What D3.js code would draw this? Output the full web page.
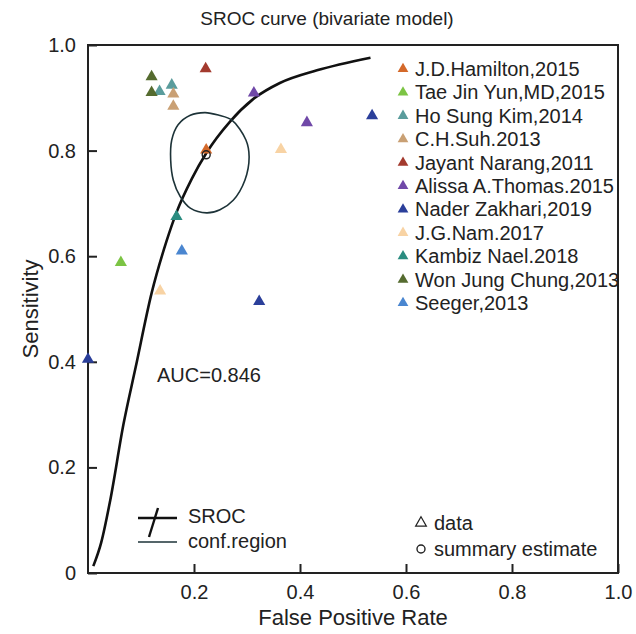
<!DOCTYPE html>
<html>
<head>
<meta charset="utf-8">
<script src="https://cdn.jsdelivr.net/npm/d3@7"></script>
<style>
  body { margin: 0; background: #fff; }
  svg text { font-family: "Liberation Sans", Arial, sans-serif; fill: #222; }
</style>
</head>
<body>
<svg id="chart" width="636" height="634"></svg>
<script>
// study names, legend order
const studies = ['J.D.Hamilton,2015', 'Tae Jin Yun,MD,2015', 'Ho Sung Kim,2014', 'C.H.Suh.2013',
    'Jayant Narang,2011', 'Alissa A.Thomas.2015', 'Nader Zakhari,2019', 'J.G.Nam.2017',
    'Kambiz Nael.2018', 'Won Jung Chung,2013', 'Seeger,2013']
const studyColors = ['#d4692a', '#7cc444', '#5a9c9c', '#c9a074', '#a33a2e', '#7048a8',
    '#2b3f9a', '#f8d3a4', '#2a8c80', '#556b2f', '#4a86d0']

// false positive rate / sensitivity of each study's results
const studyFpr = [[0.223], [0.062], [0.135, 0.158], [0.161, 0.161], [0.222], [0.313, 0.413],
    [0.536, 0.0, 0.323], [0.364, 0.136], [0.167], [0.120, 0.120], [0.177]]
const studySens = [[0.801], [0.588], [0.912, 0.924], [0.907, 0.884], [0.955], [0.909, 0.853],
    [0.866, 0.405, 0.514], [0.802, 0.534], [0.675], [0.940, 0.910], [0.610]]

// SROC curve
const srocFpr = [0.010, 0.025, 0.042, 0.067, 0.090, 0.120, 0.148, 0.167, 0.196, 0.223,
    0.268, 0.311, 0.362, 0.432, 0.533]
const srocSens = [0.013, 0.058, 0.138, 0.282, 0.390, 0.530, 0.628, 0.683, 0.747, 0.795,
    0.855, 0.897, 0.928, 0.952, 0.976]

// confidence region outline
const regionFpr = [0.221, 0.247, 0.271, 0.298, 0.304, 0.296, 0.274, 0.249, 0.224, 0.193,
    0.174, 0.161, 0.156, 0.158, 0.170, 0.193]
const regionSens = [0.872, 0.867, 0.858, 0.820, 0.788, 0.744, 0.706, 0.688, 0.682, 0.691,
    0.713, 0.744, 0.782, 0.820, 0.849, 0.867]

const summary = {fpr: 0.223, sens: 0.792}
const auc = 0.846
const xTicks = [0.2, 0.4, 0.6, 0.8, 1.0]
const yTicks = [0, 0.2, 0.4, 0.6, 0.8, 1.0]

const svg = d3.select('#chart')
const plot = {left: 88, right: 618, top: 45, bottom: 573}

const x = d3.scaleLinear().domain([0, 1]).range([plot.left, plot.right])
const y = d3.scaleLinear().domain([0, 1]).range([plot.bottom, plot.top])

const fmt = v => v === 0 ? '0' : d3.format('.1f')(v)

// axes, ticks pointing inward
const xAxis = svg.append('g')
    .attr('transform', `translate(0,${plot.bottom})`)
    .call(d3.axisBottom(x).tickValues(xTicks).tickSizeInner(-9).tickSizeOuter(0).tickPadding(12).tickFormat(fmt))
const yAxis = svg.append('g')
    .attr('transform', `translate(${plot.left},0)`)
    .call(d3.axisLeft(y).tickValues(yTicks).tickSizeInner(-9).tickSizeOuter(0).tickPadding(12).tickFormat(fmt))

;[xAxis, yAxis].forEach(g => {
    g.select('.domain').remove()
    g.selectAll('line').attr('stroke', '#222').attr('stroke-width', 2)
    g.selectAll('text').style('font-size', '20px').attr('fill', '#222')
})

svg.append('rect')
    .attr('x', plot.left).attr('y', plot.top)
    .attr('width', plot.right - plot.left).attr('height', plot.bottom - plot.top)
    .attr('fill', 'none').attr('stroke', '#222').attr('stroke-width', 2)

// titles
svg.append('text').attr('x', 327).attr('y', 25)
    .attr('text-anchor', 'middle').style('font-size', '19px').text('SROC curve (bivariate model)')
svg.append('text').attr('x', (plot.left + plot.right) / 2).attr('y', 625)
    .attr('text-anchor', 'middle').style('font-size', '22px').text('False Positive Rate')
svg.append('text').attr('transform', `translate(38,${(plot.top + plot.bottom) / 2}) rotate(-90)`)
    .attr('text-anchor', 'middle').style('font-size', '22px').text('Sensitivity')

// SROC curve + confidence region
svg.append('path')
    .datum(srocFpr.map((f, i) => [f, srocSens[i]]))
    .attr('d', d3.line().x(d => x(d[0])).y(d => y(d[1])).curve(d3.curveMonotoneX))
    .attr('fill', 'none').attr('stroke', '#111').attr('stroke-width', 2.6)

svg.append('path')
    .datum(regionFpr.map((f, i) => [f, regionSens[i]]))
    .attr('d', d3.line().x(d => x(d[0])).y(d => y(d[1])).curve(d3.curveCatmullRomClosed))
    .attr('fill', 'none').attr('stroke', '#1d3338').attr('stroke-width', 1.6)

// study points
const points = []
studies.forEach((s, i) => studyFpr[i].forEach((f, j) => points.push({study: s, color: studyColors[i], fpr: f, sens: studySens[i][j]})))

const tri = d3.symbol(d3.symbolTriangle, 64)
svg.append('g').selectAll('path')
    .data(points)
    .join('path')
    .attr('d', tri)
    .attr('transform', d => `translate(${x(d.fpr)},${y(d.sens)})`)
    .attr('fill', d => d.color)

svg.append('circle')
    .attr('cx', x(summary.fpr)).attr('cy', y(summary.sens)).attr('r', 4)
    .attr('fill', 'none').attr('stroke', '#222').attr('stroke-width', 1.4)

svg.append('text').attr('x', 157).attr('y', 382).style('font-size', '20px').text('AUC=' + auc)

// study legend
const legend = svg.append('g').attr('transform', 'translate(403,69)')
const rows = legend.selectAll('g').data(studies).join('g')
    .attr('transform', (d, i) => `translate(0,${i * 23.4})`)
rows.append('path').attr('d', d3.symbol(d3.symbolTriangle, 50)).attr('fill', (d, i) => studyColors[i])
rows.append('text').attr('x', 12).attr('y', 7).style('font-size', '20px').text(d => d)

// bottom-left legend
const l2 = svg.append('g')
l2.append('line').attr('x1', 138).attr('x2', 177).attr('y1', 518).attr('y2', 518).attr('stroke', '#111').attr('stroke-width', 2.4)
l2.append('line').attr('x1', 149).attr('x2', 158).attr('y1', 537).attr('y2', 508).attr('stroke', '#111').attr('stroke-width', 2.4)
l2.append('line').attr('x1', 138).attr('x2', 177).attr('y1', 542).attr('y2', 542).attr('stroke', '#1d3338').attr('stroke-width', 1.6)
l2.append('text').attr('x', 188).attr('y', 523).style('font-size', '20px').text('SROC')
l2.append('text').attr('x', 188).attr('y', 548).style('font-size', '20px').text('conf.region')

// data / summary legend
const l3 = svg.append('g')
l3.append('path').attr('d', d3.symbol(d3.symbolTriangle, 50))
    .attr('transform', 'translate(421,523)').attr('fill', 'none').attr('stroke', '#222').attr('stroke-width', 1.2)
l3.append('circle').attr('cx', 421).attr('cy', 549).attr('r', 4).attr('fill', 'none').attr('stroke', '#222').attr('stroke-width', 1.4)
l3.append('text').attr('x', 434).attr('y', 530).style('font-size', '20px').text('data')
l3.append('text').attr('x', 434).attr('y', 556).style('font-size', '20px').text('summary estimate')
</script>
</body>
</html>
